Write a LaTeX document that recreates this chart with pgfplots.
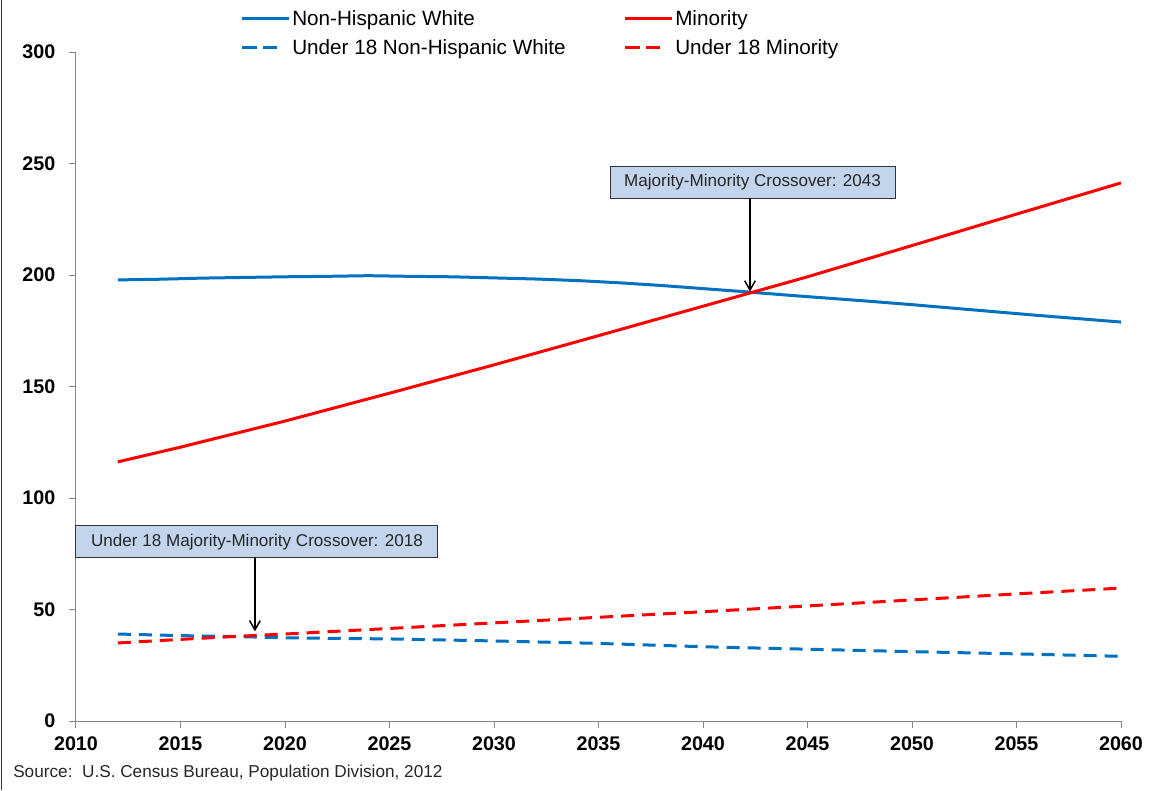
\documentclass[border=0pt]{standalone}
\usepackage{fontspec}
\setmainfont{Liberation Sans}
\usepackage{pgfplots}
\pgfplotsset{compat=1.18}
\usetikzlibrary{arrows.meta,calc}
\definecolor{nhw}{HTML}{0070C0}
\definecolor{mino}{HTML}{FF0000}
\definecolor{boxfill}{HTML}{C3D5EC}
\definecolor{axgray}{HTML}{868686}
\pgfplotsset{dashlegend/.style={legend image code/.code={\draw[##1, dash pattern=on 11pt off 5pt] (0pt,0pt) -- (26.5pt,0pt);}}}

\begin{document}
\begin{tikzpicture}
\begin{axis}[name=ax, at={(0,0)}, anchor=south west,
  scale only axis, width=783.75pt, height=501.75pt,
  xmin=2010, xmax=2060, ymin=0, ymax=300,
  xtick={2010,2015,...,2060}, ytick={0,50,...,300},
  axis x line*=bottom, axis y line*=left,
  axis line style={axgray, line width=0.75pt},
  tick style={axgray, line width=0.75pt},
  tick align=outside, major tick length=5.25pt,
  /pgf/number format/assume math mode=true,
  /pgf/number format/1000 sep={},
  ticklabel style={font=\fontsize{14.8}{17}\selectfont\bfseries, text=black},
  xticklabel style={yshift=-3pt},
  yticklabel style={xshift=-6.75pt},
  clip=false,
  legend columns=2,
  legend cell align=left,
  legend style={draw=none, fill=none, at={(0,1)}, anchor=south west,
    xshift=120.25pt, yshift=-7pt, font=\fontsize{15.5}{18}\selectfont,
    row sep=6pt, nodes={inner sep=1.5pt}},
  legend image code/.code={\draw[#1] (0pt,0pt) -- (35pt,0pt);},
]
\addplot[nhw, line width=2.25pt] coordinates {
(2012,197.8) (2014,198.1) (2016,198.6) (2018,198.9) (2020,199.2) (2022,199.4) (2024,199.7)
(2026,199.4) (2028,199.2) (2030,198.7) (2032,198.2) (2034,197.5) (2036,196.5) (2038,195.3)
(2040,193.9) (2042,192.5) (2044,191.0) (2046,189.6) (2048,188.2) (2050,186.7) (2052,185.1)
(2054,183.5) (2056,181.9) (2058,180.4) (2060,178.9)};
\addlegendentry{\makebox[247pt][l]{Non-Hispanic White}}
\addplot[mino, line width=2.25pt] coordinates {
(2012,116.2) (2015,122.8) (2020,134.5) (2025,147.0) (2030,159.7) (2035,172.8) (2040,186.0)
(2045,199.2) (2050,213.2) (2055,227.3) (2060,241.3)};
\addlegendentry{Minority}
\addplot[nhw, line width=2.25pt, dash pattern=on 9.75pt off 6pt, dashlegend] coordinates {
(2012,39.0) (2015,38.3) (2018,37.8) (2020,37.3) (2025,36.8) (2030,35.9) (2035,34.8)
(2040,33.3) (2045,32.2) (2050,31.1) (2055,30.1) (2060,29.0)};
\addlegendentry{\makebox[247pt][l]{Under 18 Non-Hispanic White}}
\addplot[mino, line width=2.25pt, dash pattern=on 9.75pt off 6pt, dashlegend] coordinates {
(2012,35.0) (2015,36.6) (2018,38.1) (2020,39.0) (2025,41.5) (2030,44.0) (2035,46.5)
(2040,49.0) (2045,51.6) (2050,54.3) (2055,57.0) (2060,59.6)};
\addlegendentry{Under 18 Minority}

\node[draw=black!80, fill=boxfill, line width=0.75pt, minimum width=213.75pt,
  minimum height=24pt, inner sep=0pt, text=black!85,
  font=\fontsize{12.8}{15}\selectfont] at (axis cs:2042.37,241.7)
  {Majority-Minority Crossover: 2043};
\draw[-{Straight Barb[length=7pt,width=8pt]}, line width=1.1pt]
  (axis cs:2042.25,234.5) -- (axis cs:2042.25,192.6);
\node[draw=black!80, fill=boxfill, line width=0.75pt, minimum width=271.5pt,
  minimum height=24pt, inner sep=0pt, text=black!85,
  font=\fontsize{12.8}{15}\selectfont] at (axis cs:2018.66,80.3)
  {Under 18 Majority-Minority Crossover: 2018};
\draw[-{Straight Barb[length=7pt,width=8pt]}, line width=1.1pt]
  (axis cs:2018.56,73.1) -- (axis cs:2018.56,40.2);
\end{axis}
\node[anchor=west, inner sep=0pt, text=black!85, font=\fontsize{12.9}{15}\selectfont]
  at ($(ax.south west)+(-47.25pt,-39pt)$)
  {Source:\ \ U.S. Census Bureau, Population Division, 2012};
\draw[line width=1.1pt, black!80] ($(ax.south west)+(-56pt,-51.75pt)$) -- ($(ax.south west)+(-56pt,540.75pt)$);
\pgfresetboundingbox
\path[use as bounding box] ($(ax.south west)+(-57pt,-51.75pt)$) rectangle ($(ax.south west)+(819pt,540.75pt)$);
\end{tikzpicture}
\end{document}
